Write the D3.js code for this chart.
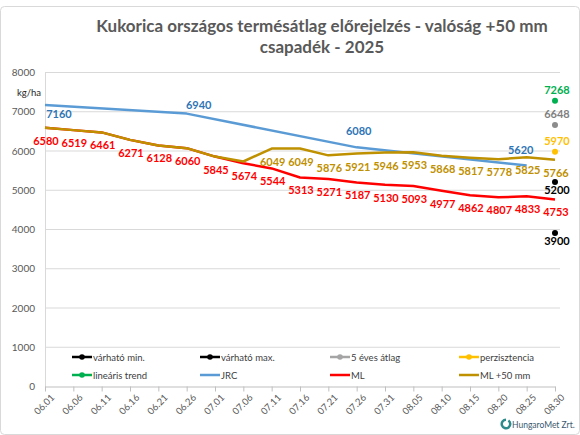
<!DOCTYPE html>
<html>
<head>
<meta charset="utf-8">
<script src="https://cdn.jsdelivr.net/npm/d3@7"></script>
<style>
	body { margin: 0; background: #fff; }
	svg { font-family: Lato, "Open Sans", sans-serif; }
</style>
</head>
<body>
<svg id="chart" width="580" height="435"></svg>
<script>
// dátumok (x tengely)
var dates = ["06.01","06.06","06.11","06.16","06.21","06.26","07.01","07.06","07.11","07.16",
	"07.21","07.26","07.31","08.05","08.10","08.15","08.20","08.25","08.30"];

// ML előrejelzés
var mlValues = [6580,6519,6461,6271,6128,6060,5845,5674,5544,5313,5271,5187,5130,5093,4977,4862,4807,4833,4753];
// ML +50 mm csapadék
var ml50Values = [6580,6519,6461,6271,6128,6060,5845,5720,6049,6049,5876,5921,5946,5953,5868,5817,5778,5825,5766];
// ML +50 mm : melyik pontnak van felirata
var ml50Labeled = [false,false,false,false,false,false,false,false,true,true,true,true,true,true,true,true,true,true,true];
// JRC (csak néhány napra van érték)
var jrcValues = [7160,null,null,null,null,6940,null,null,null,null,null,6080,null,null,null,null,null,5620,null];

// egyedi pontok az utolsó napra
var singleNames = ["várható min.","várható max.","5 éves átlag","perzisztencia","lineáris trend"];
var singleValues = [3900,5200,6648,5970,7268];
var singleDate = "08.30";

var yTicks = [0,1000,2000,3000,4000,5000,6000,7000,8000];

var legendNames = ["várható min.","várható max.","5 éves átlag","perzisztencia","lineáris trend","JRC","ML","ML +50 mm"];

// színek
var colRed = "#FF0000", colGold = "#BF9000", colBlue = "#5B9BD5", colBlueText = "#2E75B6";
var singleColors = ["#000000","#000000","#8C8C8C","#FFC000","#00B050"];
var singleTextColors = ["#000000","#000000","#7F7F7F","#FFC000","#00B050"];
var singleBelow = [true,true,false,false,false];

var svg = d3.select("#chart");

// keret
svg.append("rect")
	.attr("x", 0.5).attr("y", 6.5)
	.attr("width", 579).attr("height", 428)
	.attr("rx", 4)
	.attr("fill", "#fff")
	.attr("stroke", "#D9D9D9");

// cím
var title = svg.append("text")
	.attr("x", 322)
	.attr("text-anchor", "middle")
	.attr("fill", "#595959")
	.style("font-size", "17px")
	.style("font-weight", "bold");
title.append("tspan").attr("x", 322).attr("y", 32).text("Kukorica országos termésátlag előrejelzés - valóság +50 mm");
title.append("tspan").attr("x", 322).attr("y", 53).text("csapadék - 2025");

var xScale = d3.scalePoint()
	.domain(dates)
	.range([45, 555]);

var yScale = d3.scaleLinear()
	.domain([0, 8000])
	.range([386, 72]);

// rácsvonalak
svg.append("g")
	.selectAll("line")
	.data(yTicks.filter(function(d){return d > 0;}))
	.enter().append("line")
	.attr("x1", 45).attr("x2", 560)
	.attr("y1", function(d){return yScale(d) + 0.5;})
	.attr("y2", function(d){return yScale(d) + 0.5;})
	.attr("stroke", "#D9D9D9");

// y tengely
var yAxis = svg.append("g")
	.attr("transform", "translate(45,0.5)")
	.call(d3.axisLeft(yScale).tickValues(yTicks).tickFormat(d3.format("d")).tickSize(0).tickPadding(10));
yAxis.select(".domain").attr("stroke", "#D9D9D9");
yAxis.selectAll("text")
	.attr("fill", "#595959")
	.style("font-size", "10px")
	.style("font-family", "Lato, sans-serif");

svg.append("text")
	.attr("x", 17).attr("y", 96)
	.attr("fill", "#262626")
	.style("font-size", "9.5px")
	.text("kg/ha");

// x tengely
var xAxis = svg.append("g")
	.attr("transform", "translate(0," + (yScale(0) + 0.5) + ")")
	.call(d3.axisBottom(xScale).tickSize(5).tickSizeOuter(0));
xAxis.select(".domain").attr("stroke", "#BFBFBF");
xAxis.selectAll(".tick line").attr("stroke", "#BFBFBF");
xAxis.selectAll("text")
	.attr("fill", "#595959")
	.style("font-size", "9.5px")
	.style("font-family", "Lato, sans-serif")
	.attr("text-anchor", "end")
	.attr("dy", "0.3em")
	.attr("transform", "translate(2,4) rotate(-45)");

// vonalak
var line = d3.line()
	.defined(function(d){return d.v != null;})
	.x(function(d){return xScale(d.date);})
	.y(function(d){return yScale(d.v);});

function toPoints(values){
	return dates.map(function(d, i){return {date: d, v: values[i], i: i};});
}

var jrcData = toPoints(jrcValues).filter(function(d){return d.v != null;});
var mlData = toPoints(mlValues);
var ml50Data = toPoints(ml50Values);

svg.append("path")
	.attr("d", line(jrcData))
	.attr("fill", "none")
	.attr("stroke", colBlue)
	.attr("stroke-width", 2.5)
	.attr("stroke-linejoin", "round");

svg.append("path")
	.attr("d", line(mlData))
	.attr("fill", "none")
	.attr("stroke", colRed)
	.attr("stroke-width", 2.5)
	.attr("stroke-linejoin", "round");

svg.append("path")
	.attr("d", line(ml50Data))
	.attr("fill", "none")
	.attr("stroke", colGold)
	.attr("stroke-width", 2.5)
	.attr("stroke-linejoin", "round");

// feliratok
var labelStyle = function(sel, color){
	sel.attr("fill", color)
		.attr("text-anchor", "middle")
		.style("font-size", "11px")
		.style("font-weight", "bold");
};

svg.append("g").selectAll("text")
	.data(mlData)
	.enter().append("text")
	.call(labelStyle, colRed)
	.attr("x", function(d){return xScale(d.date) + 1;})
	.attr("y", function(d){return yScale(d.v) + 17;})
	.text(function(d){return d.v;});

svg.append("g").selectAll("text")
	.data(ml50Data.filter(function(d){return ml50Labeled[d.i];}))
	.enter().append("text")
	.call(labelStyle, colGold)
	.attr("x", function(d){return xScale(d.date) + 1;})
	.attr("y", function(d){return yScale(d.v) + 17;})
	.text(function(d){return d.v;});

// JRC feliratok kézzel igazítva, mint az eredetin
var jrcNudge = [[14, 13], [12, -5], [2, -12], [-6, -11]];
svg.append("g").selectAll("text")
	.data(jrcData)
	.enter().append("text")
	.call(labelStyle, colBlueText)
	.attr("x", function(d, i){return xScale(d.date) + jrcNudge[i][0];})
	.attr("y", function(d, i){return yScale(d.v) + jrcNudge[i][1];})
	.text(function(d){return d.v;});

// egyedi pontok
var singles = singleNames.map(function(n, i){
	return {name: n, v: singleValues[i], color: singleColors[i], text: singleTextColors[i], below: singleBelow[i]};
});

svg.append("g").selectAll("circle")
	.data(singles)
	.enter().append("circle")
	.attr("cx", xScale(singleDate))
	.attr("cy", function(d){return yScale(d.v);})
	.attr("r", 3)
	.attr("fill", function(d){return d.color;});

svg.append("g").selectAll("text")
	.data(singles)
	.enter().append("text")
	.each(function(d){ labelStyle(d3.select(this), d.text); })
	.attr("x", xScale(singleDate) + 2)
	.attr("y", function(d){return yScale(d.v) + (d.below ? 12 : -7);})
	.text(function(d){return d.v;});

// jelmagyarázat
var legendColors = ["#000000","#000000","#A5A5A5","#FFC000","#00B050",colBlue,colRed,colGold];
var legendMarker = [true,true,true,true,true,false,false,false];
var legendCols = [72, 200, 330, 459];
var legendRows = [357, 375];

var legend = svg.append("g")
	.selectAll("g")
	.data(legendNames)
	.enter().append("g")
	.attr("transform", function(d, i){
		return "translate(" + legendCols[i % 4] + "," + legendRows[Math.floor(i / 4)] + ")";
	});

legend.append("line")
	.attr("x1", 0).attr("x2", 20)
	.attr("stroke", function(d, i){return legendColors[i];})
	.attr("stroke-width", 2.5);

legend.filter(function(d, i){return legendMarker[i];})
	.append("circle")
	.attr("cx", 10).attr("r", 2.8)
	.attr("fill", function(d){return legendColors[legendNames.indexOf(d)];});

legend.append("text")
	.attr("x", 21).attr("y", 3.5)
	.attr("fill", "#404040")
	.style("font-size", "9.5px")
	.text(function(d){return d;});

// HungaroMet logó
var logo = svg.append("g").attr("transform", "translate(506,424)");
logo.append("path")
	.attr("d", d3.arc()({innerRadius: 3, outerRadius: 5.5, startAngle: 0.6, endAngle: 2 * Math.PI}))
	.attr("fill", "#2E8B8B");
logo.append("text")
	.attr("x", 6).attr("y", 3.5)
	.attr("fill", "#3A5A70")
	.style("font-size", "8.5px")
	.text("HungaroMet Zrt.");
</script>
</body>
</html>
